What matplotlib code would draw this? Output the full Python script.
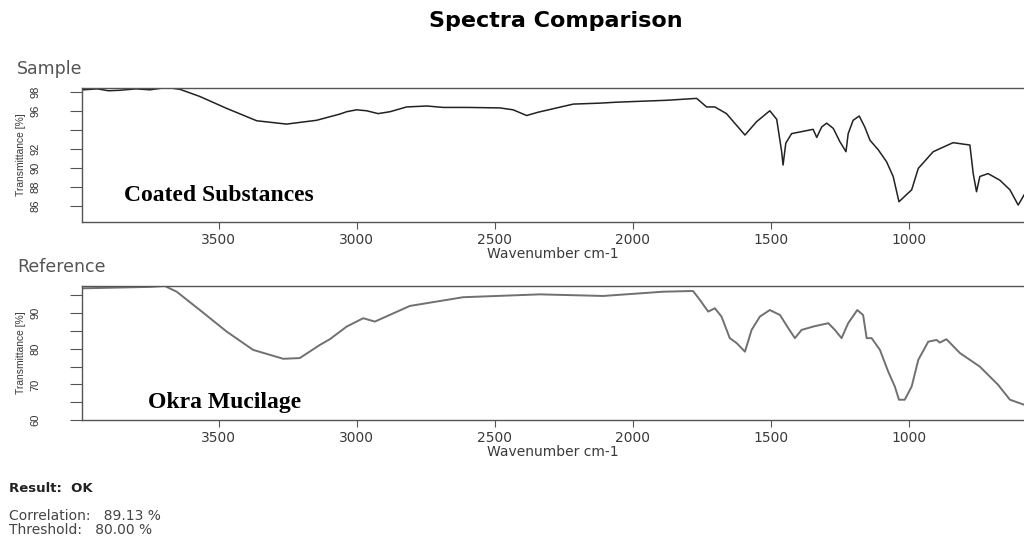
import matplotlib
matplotlib.use("Agg")
import matplotlib.pyplot as plt

# sample spectrum (coated substances)
sample_wn = [3992, 3940, 3900, 3860, 3800, 3750, 3700, 3689, 3641, 3569,
             3472, 3363, 3255, 3146, 3062, 3037, 3001, 2965, 2923, 2880,
             2820, 2747, 2687, 2600, 2482, 2434, 2385, 2343, 2216, 2120,
             2059, 1878, 1769, 1733, 1703, 1661, 1594, 1552, 1504, 1479,
             1461, 1456, 1446, 1425, 1347, 1334, 1316, 1298, 1274, 1250,
             1228, 1220, 1202, 1180, 1160, 1141, 1111, 1081, 1057, 1036,
             990, 966, 912, 840, 779, 767, 755, 743, 713, 670,
             634, 604, 583]
sample_t = [98.2, 98.3, 98.1, 98.15, 98.3, 98.2, 98.4, 98.45, 98.25, 97.5,
            96.25, 94.95, 94.6, 95.0, 95.65, 95.9, 96.1, 96.0, 95.7, 95.9,
            96.4, 96.5, 96.35, 96.35, 96.3, 96.1, 95.5, 95.85, 96.7, 96.8,
            96.9, 97.1, 97.3, 96.4, 96.4, 95.7, 93.45, 94.85, 96.0, 95.1,
            91.7, 90.3, 92.6, 93.6, 94.05, 93.2, 94.3, 94.7, 94.15, 92.75,
            91.7, 93.6, 95.0, 95.45, 94.3, 92.9, 91.9, 90.65, 89.1, 86.45,
            87.7, 89.95, 91.7, 92.65, 92.4, 89.4, 87.5, 89.1, 89.4, 88.7,
            87.7, 86.1, 87.15]

# reference spectrum (okra mucilage)
ref_wn = [3992, 3871, 3750, 3696, 3653, 3569, 3472, 3376, 3267, 3207,
          3134, 3098, 3037, 2977, 2935, 2808, 2615, 2337, 2108, 1890,
          1782, 1757, 1727, 1703, 1679, 1649, 1624, 1594, 1570, 1540,
          1504, 1467, 1437, 1413, 1389, 1347, 1292, 1268, 1244, 1220,
          1187, 1166, 1153, 1135, 1105, 1075, 1051, 1036, 1015, 990,
          966, 930, 900, 888, 864, 815, 743, 677, 634, 583]
ref_t = [97.0, 97.2, 97.4, 97.65, 96.05, 90.9, 84.85, 79.7, 77.2, 77.4,
         81.1, 82.7, 86.25, 88.6, 87.65, 92.05, 94.5, 95.3, 94.85, 96.05,
         96.25, 93.7, 90.45, 91.4, 89.05, 83.0, 81.6, 79.2, 85.3, 89.05,
         90.9, 89.5, 85.8, 83.0, 85.3, 86.25, 87.2, 85.3, 83.0, 87.2,
         90.9, 89.5, 83.0, 83.0, 79.7, 73.6, 69.4, 65.7, 65.7, 69.4,
         76.9, 82.0, 82.5, 81.75, 82.7, 78.8, 75.0, 69.9, 65.7, 64.3]

x_ticks = [3500, 3000, 2500, 2000, 1500, 1000]
top_yticks = [86, 88, 90, 92, 94, 96, 98]
top_ylabels = ['86', '88', '90', '92', '', '96', '98']
bot_yticks = [60, 65, 70, 75, 80, 85, 90, 95]
bot_ylabels = ['60', '', '70', '', '80', '', '90', '']

W, H = 1024, 536
plt.rcParams['font.family'] = ['DejaVu Sans']
fig = plt.figure(figsize=(W / 100, H / 100), dpi=100)

GRAY = '#555555'
NARROW = ['Liberation Sans', 'DejaVu Sans']
SERIF = ['Liberation Serif', 'DejaVu Serif']


def px(x, y):
    return x / W, 1 - y / H


def style_axes(ax, yticks, ylabels, ylim):
    ax.set_xlim(3996, 583)
    ax.set_ylim(*ylim)
    ax.set_xticks(x_ticks)
    ax.set_xticklabels([str(t) for t in x_ticks], fontsize=10, color='#3a3a3a')
    ax.set_yticks(yticks)
    ax.set_yticklabels(ylabels, fontsize=8, rotation=90, va='center',
                       family=NARROW, color='#333333')
    ax.tick_params(axis='x', direction='out', length=5, width=0.8,
                   color=GRAY, pad=3)
    ax.tick_params(axis='y', direction='out', length=9, width=0.8,
                   color=GRAY, pad=21)
    ax.spines['right'].set_visible(False)
    for s in ['left', 'top', 'bottom']:
        ax.spines[s].set_color(GRAY)
        ax.spines[s].set_linewidth(1.0)
    ax.set_xlabel('Wavenumber cm-1', fontsize=10, color='#3a3a3a', labelpad=0)
    ax.set_ylabel('Transmittance [%]', fontsize=7.4, family=NARROW,
                  color='#3a3a3a', labelpad=3)


ax1 = fig.add_axes([82 / W, 1 - 222 / H, (W - 82) / W, 134 / H])
ax1.plot(sample_wn, sample_t, color='#222222', lw=1.1)
style_axes(ax1, top_yticks, top_ylabels, (84.32, 98.39))
ax1.text(0.045, 0.16, 'Coated Substances', transform=ax1.transAxes,
         family=SERIF, fontweight='bold', fontsize=17, color='black')

ax2 = fig.add_axes([82 / W, 1 - 420 / H, (W - 82) / W, 134 / H])
ax2.plot(ref_wn, ref_t, color='#707070', lw=1.4)
style_axes(ax2, bot_yticks, bot_ylabels, (60.0, 97.65))
ax2.text(0.07, 0.09, 'Okra Mucilage', transform=ax2.transAxes,
         family=SERIF, fontweight='bold', fontsize=17, color='black')

fig.text(*px(556, 21), 'Spectra Comparison', ha='center', va='center',
         fontsize=16, fontweight='bold', color='black')
fig.text(*px(17, 69), 'Sample', ha='left', va='center', fontsize=12.5,
         color=GRAY)
fig.text(*px(17, 267), 'Reference', ha='left', va='center', fontsize=12.5,
         color=GRAY)
fig.text(*px(9, 488), 'Result:  OK', ha='left', va='center', fontsize=9.5,
         fontweight='bold', color='#222222')
fig.text(*px(9, 516), 'Correlation:   89.13 %', ha='left', va='center',
         fontsize=10, color='#444444')
fig.text(*px(9, 530), 'Threshold:   80.00 %', ha='left', va='center',
         fontsize=10, color='#444444')

fig.savefig('out.png', dpi=100)
